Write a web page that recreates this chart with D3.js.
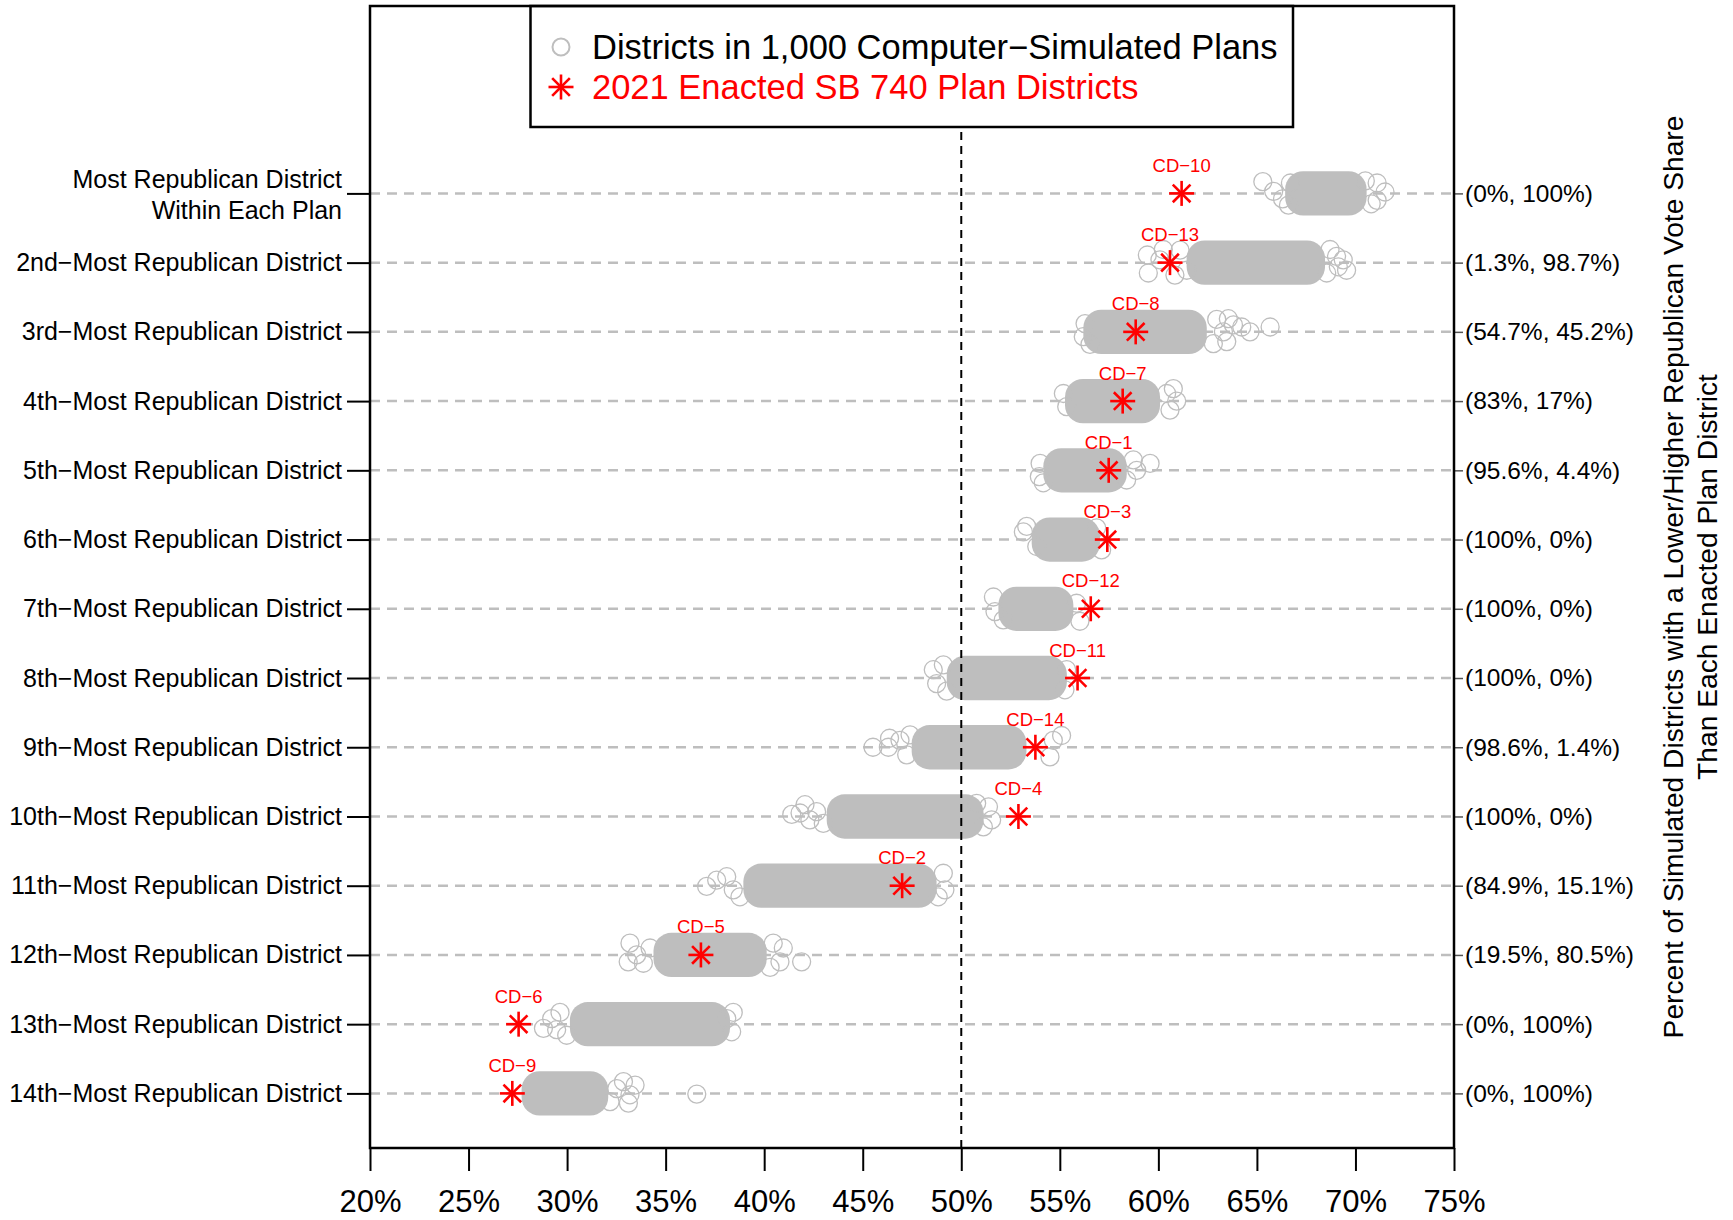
<!DOCTYPE html>
<html>
<head>
<meta charset="utf-8">
<script src="https://cdn.jsdelivr.net/npm/d3@7"></script>
<style>
  html, body { margin: 0; padding: 0; background: #fff; }
  svg { display: block; }
  text { font-family: "Liberation Sans", Arial, Helvetica, sans-serif; }
</style>
</head>
<body>
<script>
// ---------------- DATA ----------------
const xTicks = [20, 25, 30, 35, 40, 45, 50, 55, 60, 65, 70, 75];
const ranks = [1, 2, 3, 4, 5, 6, 7, 8, 9, 10, 11, 12, 13, 14];
const rowLabels = [
  "Most Republican District|Within Each Plan",
  "2nd\u2212Most Republican District",
  "3rd\u2212Most Republican District",
  "4th\u2212Most Republican District",
  "5th\u2212Most Republican District",
  "6th\u2212Most Republican District",
  "7th\u2212Most Republican District",
  "8th\u2212Most Republican District",
  "9th\u2212Most Republican District",
  "10th\u2212Most Republican District",
  "11th\u2212Most Republican District",
  "12th\u2212Most Republican District",
  "13th\u2212Most Republican District",
  "14th\u2212Most Republican District"
];
const rightLabels = [
  "(0%, 100%)", "(1.3%, 98.7%)", "(54.7%, 45.2%)", "(83%, 17%)",
  "(95.6%, 4.4%)", "(100%, 0%)", "(100%, 0%)", "(100%, 0%)",
  "(98.6%, 1.4%)", "(100%, 0%)", "(84.9%, 15.1%)", "(19.5%, 80.5%)",
  "(0%, 100%)", "(0%, 100%)"
];
const enactedNames = ["CD\u221210", "CD\u221213", "CD\u22128", "CD\u22127", "CD\u22121", "CD\u22123",
  "CD\u221212", "CD\u221211", "CD\u221214", "CD\u22124", "CD\u22122", "CD\u22125", "CD\u22126", "CD\u22129"];
const enactedShare = [61.18, 60.59, 58.85, 58.19, 57.48, 57.41, 56.57, 55.90, 53.76, 52.90, 47.00, 36.79, 27.54, 27.22];

// dense bulk of the simulated districts per rank (low / high vote share, %)
const coreLow  = [66.89, 61.89, 56.65, 55.72, 54.62, 54.03, 52.34, 49.72, 47.94, 43.63, 39.40, 34.84, 30.60, 28.15];
const coreHigh = [70.11, 68.00, 62.00, 59.63, 57.94, 56.58, 55.23, 54.90, 52.85, 50.67, 48.29, 39.67, 37.81, 31.63];

// individually visible simulated districts: [vote share %, vertical jitter]
const simPoints = [
  [[65.3,0.17],[65.85,0.03],[66.3,-0.08],[66.6,-0.17],[66.7,0.15],[71.1,0.15],[71.5,0.02],[71.1,-0.1],[70.8,-0.15],[70.5,0.18]],
  [[59.44,0.11],[59.49,-0.15],[60.08,0.04],[60.25,0.19],[60.84,-0.18],[61.1,0.18],[61.44,-0.11],[68.71,0.19],[69.04,0.09],[69.13,-0.06],[69.55,-0.11],[69.38,0.04],[68.54,-0.15]],
  [[56.28,0.12],[56.19,-0.07],[56.53,-0.18],[62.96,0.18],[63.3,0],[63.47,-0.14],[63.81,0.1],[63.55,0.19],[64.65,0],[65.67,0.07],[62.79,-0.17],[64.23,0.07]],
  [[55.18,0.11],[55.35,-0.08],[60.76,0.18],[60.93,0],[60.59,-0.13],[60.42,0.11]],
  [[54.0,0.1],[53.96,-0.09],[54.16,-0.18],[58.73,0.15],[59.58,0.1],[58.39,-0.14],[58.9,0]],
  [[53.15,0.11],[53.32,0.19],[53.83,-0.1],[56.87,0.17],[57.12,-0.15]],
  [[51.63,0.17],[51.71,-0.04],[52.13,-0.16],[56.02,-0.18],[55.85,0.08]],
  [[48.58,0.12],[48.75,-0.08],[49.09,0.19],[49.26,-0.19],[55.35,0.12],[55.26,-0.17]],
  [[45.52,0],[46.36,0.13],[46.3,0],[46.89,0.1],[47.23,-0.11],[47.4,0.18],[54.67,0.1],[55.09,0.17],[54.5,-0.14]],
  [[41.4,0.03],[41.82,0.05],[42.07,0.17],[42.32,-0.05],[42.66,0.07],[43.0,-0.1],[51.38,0.14],[51.54,-0.05],[51.12,-0.15],[50.78,0.19]],
  [[37.08,-0.01],[37.59,0.08],[38.1,0.13],[38.43,-0.06],[38.77,-0.16],[49.09,0.18],[49.17,-0.06],[48.83,-0.16]],
  [[33.19,0.17],[33.53,0],[33.1,-0.1],[33.87,-0.12],[34.21,0.1],[40.46,0.17],[40.8,-0.1],[40.97,0.1],[41.9,-0.1],[40.3,-0.18]],
  [[28.8,-0.06],[29.22,0.08],[29.64,0.17],[29.98,-0.16],[29.47,-0.08],[38.43,0.17],[38.35,-0.11],[38.1,0.08]],
  [[32.52,0.07],[32.86,0.17],[33.19,-0.02],[33.45,0.12],[33.11,-0.14],[32.18,-0.12],[36.58,-0.01]]
];

const legendLabels = ["Districts in 1,000 Computer\u2212Simulated Plans", "2021 Enacted SB 740 Plan Districts"];
const axisTitleLines = ["Percent of Simulated Districts with a Lower/Higher Republican Vote Share",
                        "Than Each Enacted Plan District"];

// ---------------- LAYOUT ----------------
const W = 1733, H = 1220;
const plot = { left: 370, right: 1454, top: 6, bottom: 1148 };
const GRAY = "#BEBEBE", RED = "#FF0000";
const PT_R = 9;          // circle radius (px)
const JIT = 0.19;        // half-height of jitter band (rank units)

const svg = d3.select("body").append("svg")
  .attr("width", W).attr("height", H);

const x = d3.scaleLinear().domain([20, 75]).range([plot.left, plot.right]);
const y = d3.scaleLinear().domain([1, 14]).range([193.4, 1093.4]);

// row guide lines
svg.append("g").selectAll("line").data(ranks).join("line")
  .attr("x1", plot.left).attr("x2", plot.right)
  .attr("y1", d => y(d)).attr("y2", d => y(d))
  .attr("stroke", GRAY).attr("stroke-width", 2.5)
  .attr("stroke-dasharray", "10,7");

// dense bulk of simulated districts
svg.append("g").selectAll("rect").data(ranks).join("rect")
  .attr("x", (d, i) => x(coreLow[i]) - PT_R)
  .attr("width", (d, i) => x(coreHigh[i]) - x(coreLow[i]) + 2 * PT_R)
  .attr("y", d => y(d - JIT) - PT_R)
  .attr("height", d => y(d + JIT) - y(d - JIT) + 2 * PT_R)
  .attr("rx", 18).attr("ry", 18)
  .attr("fill", GRAY);

// individual simulated districts
const ptData = [];
simPoints.forEach((arr, i) => arr.forEach(p => ptData.push({ rank: ranks[i], v: p[0], j: p[1] })));
svg.append("g").selectAll("circle").data(ptData).join("circle")
  .attr("cx", d => x(d.v))
  .attr("cy", d => y(d.rank - d.j))
  .attr("r", PT_R)
  .attr("fill", "none").attr("stroke", GRAY).attr("stroke-width", 1.3);

// 50% line
svg.append("line")
  .attr("x1", x(50)).attr("x2", x(50))
  .attr("y1", plot.top).attr("y2", plot.bottom)
  .attr("stroke", "#000").attr("stroke-width", 2)
  .attr("stroke-dasharray", "8,6");

// asterisk symbol
function star(g, cx, cy, s) {
  const d = s, e = s * Math.SQRT1_2;
  const segs = [[-d, 0, d, 0], [0, -d, 0, d], [-e, -e, e, e], [-e, e, e, -e]];
  segs.forEach(q => g.append("line")
    .attr("x1", cx + q[0]).attr("y1", cy + q[1])
    .attr("x2", cx + q[2]).attr("y2", cy + q[3])
    .attr("stroke", RED).attr("stroke-width", 2.6).attr("stroke-linecap", "butt"));
}
const stars = svg.append("g");
ranks.forEach((r, i) => star(stars, x(enactedShare[i]), y(r), 12.5));

svg.append("g").selectAll("text").data(ranks).join("text")
  .attr("x", (d, i) => x(enactedShare[i]))
  .attr("y", d => y(d) - 21.5)
  .attr("text-anchor", "middle")
  .attr("font-size", 18.5).attr("fill", RED)
  .text((d, i) => enactedNames[i]);

// axes
const xAxis = svg.append("g").attr("transform", `translate(0,${plot.bottom})`)
  .call(d3.axisBottom(x).tickValues(xTicks).tickFormat(d => d + "%").tickSize(23).tickPadding(19));
xAxis.select(".domain").remove();
xAxis.selectAll(".tick line").attr("stroke-width", 2);
xAxis.selectAll("text").attr("font-size", 31).attr("fill", "#000")
  .style("font-family", "'Liberation Sans', Arial, sans-serif");

const yAxis = svg.append("g").attr("transform", `translate(${plot.left},0)`)
  .call(d3.axisLeft(y).tickValues(ranks).tickFormat((d, i) => rowLabels[i]).tickSize(23).tickPadding(5));
yAxis.select(".domain").remove();
yAxis.selectAll(".tick line").attr("stroke-width", 2);
yAxis.selectAll("text").attr("font-size", 25).attr("fill", "#000")
  .style("font-family", "'Liberation Sans', Arial, sans-serif")
  .each(function(d, i) {
    const parts = rowLabels[i].split("|");
    if (parts.length > 1) {
      const t = d3.select(this).text(null).attr("dy", null);
      parts.forEach((p, k) => t.append("tspan")
        .attr("x", -28).attr("y", (k === 0 ? -15 : 16.5))
        .attr("dy", "0.35em").text(p));
    }
  });

const yAxisR = svg.append("g").attr("transform", `translate(${plot.right},0)`)
  .call(d3.axisRight(y).tickValues(ranks).tickFormat((d, i) => rightLabels[i]).tickSize(9).tickPadding(2));
yAxisR.select(".domain").remove();
yAxisR.selectAll(".tick line").attr("stroke-width", 1.5).attr("stroke", "#555");
yAxisR.selectAll("text").attr("font-size", 24.5).attr("fill", "#000")
  .style("font-family", "'Liberation Sans', Arial, sans-serif");

// right axis title
const midY = (plot.top + plot.bottom) / 2;
axisTitleLines.forEach((t, k) => {
  const cx = 1673 + k * 34;
  svg.append("text")
    .attr("transform", `translate(${cx},${midY}) rotate(-90)`)
    .attr("text-anchor", "middle").attr("dominant-baseline", "central")
    .attr("font-size", 28.2).attr("fill", "#000")
    .text(t);
});

// legend
const lg = svg.append("g");
lg.append("rect").attr("x", 530.5).attr("y", plot.top).attr("width", 762.5).attr("height", 121)
  .attr("fill", "#fff").attr("stroke", "#000").attr("stroke-width", 2.5);
lg.append("circle").attr("cx", 561).attr("cy", 47).attr("r", 8.5)
  .attr("fill", "none").attr("stroke", GRAY).attr("stroke-width", 2);
lg.append("text").attr("x", 592).attr("y", 58.5).attr("font-size", 34.5).attr("fill", "#000")
  .text(legendLabels[0]);
star(lg, 561, 87, 12.5);
lg.append("text").attr("x", 592).attr("y", 98.5).attr("font-size", 34.5).attr("fill", RED)
  .text(legendLabels[1]);

// plot box
svg.append("rect")
  .attr("x", plot.left).attr("y", plot.top)
  .attr("width", plot.right - plot.left).attr("height", plot.bottom - plot.top)
  .attr("fill", "none").attr("stroke", "#000").attr("stroke-width", 2.5);
</script>
</body>
</html>
